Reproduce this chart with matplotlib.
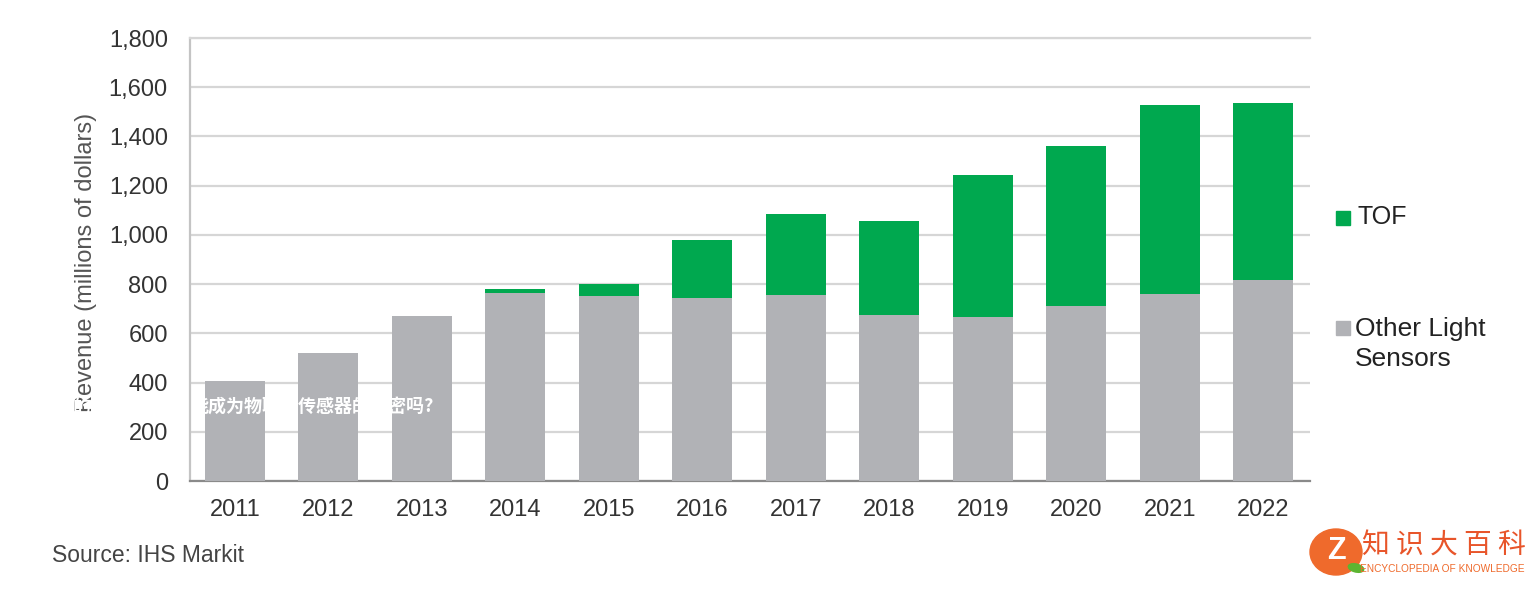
import matplotlib.pyplot as plt
import matplotlib.patches as mpatches
import numpy as np

years = ["2011", "2012", "2013", "2014", "2015", "2016", "2017", "2018", "2019", "2020", "2021", "2022"]
other_light = [405, 520, 670, 765, 752, 745, 756, 676, 668, 711, 760, 817]
tof = [0, 0, 0, 15, 47, 234, 328, 380, 575, 651, 768, 720]
yticks = [0, 200, 400, 600, 800, 1000, 1200, 1400, 1600, 1800]

gray = "#b1b2b6"
green = "#00a84f"
grid_c = "#d6d6d6"

plt.rcParams['font.family'] = ['Liberation Sans', 'DejaVu Sans']

fig = plt.figure(figsize=(15.39, 5.91), dpi=100)
ax = fig.add_axes([190 / 1539, 1 - 481 / 591, 1120 / 1539, 443 / 591])

x = np.arange(len(years))
ax.bar(x, other_light, width=0.64, color=gray, zorder=3)
ax.bar(x, tof, width=0.64, bottom=other_light, color=green, zorder=3)

ax.set_xlim(-0.48, 11.5)
ax.set_ylim(0, 1800)
ax.set_yticks(yticks)
ax.set_yticklabels([f"{v:,}" for v in yticks])
ax.set_xticks(x)
ax.set_xticklabels(years)
ax.tick_params(axis='both', length=0, labelsize=17, colors="#333333")
ax.tick_params(axis='y', pad=16)
ax.tick_params(axis='x', pad=13)
ax.yaxis.grid(True, color=grid_c, linewidth=1.6, zorder=0)

ax.spines["right"].set_visible(False)
ax.spines["top"].set_color(grid_c)
ax.spines["top"].set_linewidth(1.6)
ax.spines["left"].set_color("#c4c4c4")
ax.spines["left"].set_linewidth(1.6)
ax.spines["bottom"].set_color("#8a8a8a")
ax.spines["bottom"].set_linewidth(1.6)

fig.text(86 / 1539, 1 - 262 / 591, "Revenue (millions of dollars)", rotation=90,
         ha="center", va="center", fontsize=17, color="#555555")

# legend
fig.patches.append(mpatches.Rectangle((1336 / 1539, 1 - 225 / 591), 14 / 1539, 14 / 591,
                                      transform=fig.transFigure, color=green))
fig.text(1357 / 1539, 1 - 217 / 591, "TOF", ha="left", va="center", fontsize=18, color="#222222")
fig.patches.append(mpatches.Rectangle((1336 / 1539, 1 - 335 / 591), 14 / 1539, 14 / 591,
                                      transform=fig.transFigure, color=gray))
fig.text(1355 / 1539, 1 - 344 / 591, "Other Light\nSensors", ha="left", va="center",
         fontsize=19, color="#222222", linespacing=1.32)

fig.text(52 / 1539, 1 - 555 / 591, "Source: IHS Markit", ha="left", va="center",
         fontsize=16.5, color="#444444")

# watermark title (white)
cjk = ['Noto Sans CJK SC', 'DejaVu Sans']
fig.text(73 / 1539, 1 - 406 / 591, "的", ha="left", va="center", fontsize=13,
         fontweight="bold", color="white", family=cjk)
fig.text(190 / 1539, 1 - 406 / 591, "能成为物联网传感器的秘密吗?", ha="left", va="center",
         fontsize=13, fontweight="bold", color="white", family=cjk)

# logo
fig.patches.append(mpatches.Ellipse((1336 / 1539, 1 - 552 / 591), 52 / 1539, 46 / 591,
                                    transform=fig.transFigure, color="#ef6a2c"))
fig.text(1336 / 1539, 1 - 551 / 591, "Z", ha="center", va="center", fontsize=22,
         fontweight="bold", color="white")
fig.patches.append(mpatches.Ellipse((1356 / 1539, 1 - 568 / 591), 14 / 1539, 9 / 591,
                                    angle=20, transform=fig.transFigure, color="#5cb531"))
fig.text(1444 / 1539, 1 - 546 / 591, "知 识 大 百 科", ha="center", va="center", fontsize=20,
         color="#e8552a", family=cjk)
fig.text(1442 / 1539, 1 - 569 / 591, "ENCYCLOPEDIA OF KNOWLEDGE", ha="center", va="center",
         fontsize=7.3, color="#ef6a2c")

fig.savefig("out.png", dpi=100)
